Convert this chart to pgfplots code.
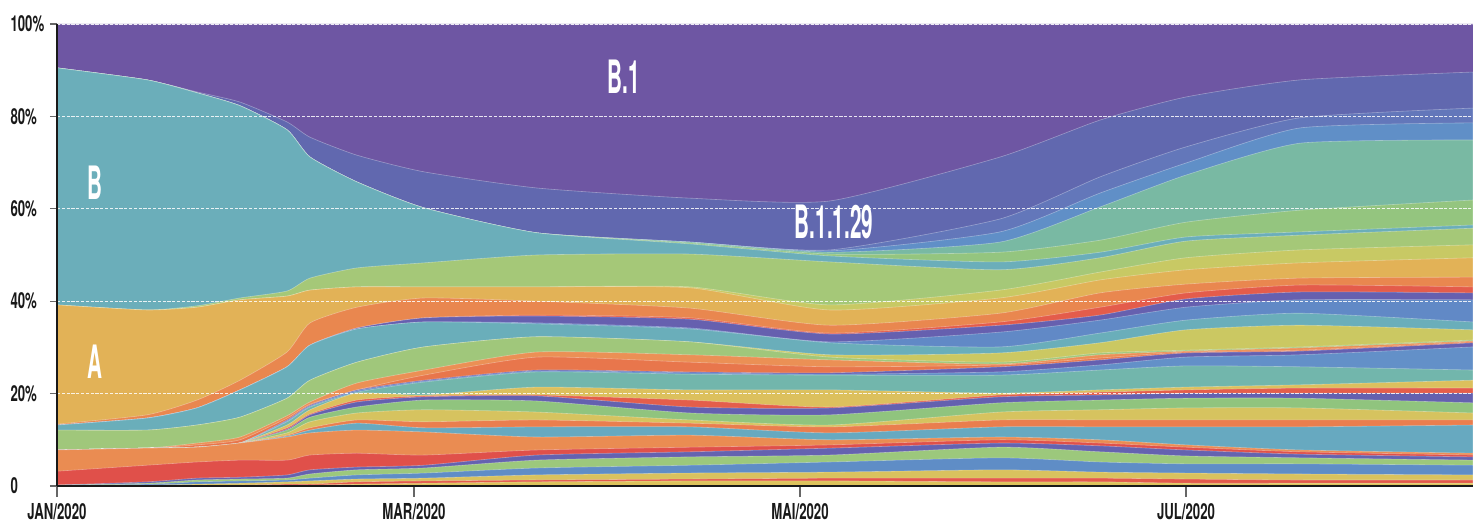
\documentclass[border=0pt]{standalone}
\usepackage{pgfplots}
\pgfplotsset{compat=1.18}
\usepackage{pgfplotstable}
\usepackage{fontspec}
\newfontfamily\tickfont{TeX Gyre Heros}[FakeStretch=0.6]
\newfontfamily\labfont{TeX Gyre Heros}[FakeStretch=0.45]

\definecolor{c1}{HTML}{6E56A3}
\definecolor{c2}{HTML}{6168AF}
\definecolor{c3}{HTML}{6377BA}
\definecolor{c4}{HTML}{608FC7}
\definecolor{c5}{HTML}{79B9A3}
\definecolor{c6}{HTML}{94C57F}
\definecolor{c7}{HTML}{6BAEBA}
\definecolor{c8}{HTML}{A5C878}
\definecolor{c9}{HTML}{C8C964}
\definecolor{c10}{HTML}{E2B257}
\definecolor{c11}{HTML}{E9874F}
\definecolor{c12}{HTML}{E45C4B}
\definecolor{c13}{HTML}{6660AF}
\definecolor{c14}{HTML}{6189C6}
\definecolor{c15}{HTML}{6AAEBA}
\definecolor{c16}{HTML}{CBC862}
\definecolor{c17}{HTML}{A0C77B}
\definecolor{c18}{HTML}{EB9055}
\definecolor{c19}{HTML}{E8764C}
\definecolor{c20}{HTML}{6660B0}
\definecolor{c21}{HTML}{6390C8}
\definecolor{c22}{HTML}{72B6AC}
\definecolor{c23}{HTML}{DCC05D}
\definecolor{c24}{HTML}{E45E4B}
\definecolor{c25}{HTML}{6461AF}
\definecolor{c26}{HTML}{90C47E}
\definecolor{c27}{HTML}{D6C35F}
\definecolor{c28}{HTML}{EA7E4E}
\definecolor{c29}{HTML}{67A9C0}
\definecolor{c30}{HTML}{EA8C52}
\definecolor{c31}{HTML}{E0504A}
\definecolor{c32}{HTML}{6562B0}
\definecolor{c33}{HTML}{9CC87C}
\definecolor{c34}{HTML}{5F8DC6}
\definecolor{c35}{HTML}{D9C25E}
\definecolor{c36}{HTML}{E35A4B}
\definecolor{c37}{HTML}{DDC35C}

% tops of the stacked layers (cumulative share, %), layer k spans t(k+1)..t(k)
\pgfplotstableread{
x t1 t2 t3 t4 t5 t6 t7 t8 t9 t10 t11 t12 t13 t14 t15 t16 t17 t18 t19 t20 t21 t22 t23 t24 t25 t26 t27 t28 t29 t30 t31 t32 t33 t34 t35 t36 t37
0 100 90.5 90.5 90.5 90.5 90.5 90.5 39.2 39.2 39.2 13.4 13.2 13.2 13.2 13.2 12.1 12.1 7.8 7.8 7.8 7.8 7.8 7.8 7.8 7.8 7.8 7.8 7.8 7.8 7.8 3.2 0.2 0.2 0.2 0 0 0
90 100 87.9 87.9 87.9 87.9 87.9 87.9 38.1 38.1 38.1 15.4 14.7 14.7 14.7 14.7 12.1 12.1 8.2 8.2 8.2 8.2 8.2 8.2 8.2 8.2 8.2 8.2 8.2 8.2 8.2 4.5 0.9 0.6 0.4 0.2 0 0
140 100 85.3 85.1 85.1 85.1 85.1 85.1 39.0 38.7 38.7 18.6 16.9 16.9 16.9 16.9 13.2 13.2 9.3 8.9 8.4 8.4 8.4 8.4 8.4 8.4 8.4 8.4 8.4 8.4 8.4 5.2 1.7 1.3 0.9 0.4 0.2 0
183 100 83.1 82.3 82.3 82.3 82.3 82.3 40.7 40.3 40.3 22.9 20.8 20.8 20.8 20.8 14.9 14.9 10.6 10.0 9.3 9.3 9.3 9.3 9.3 9.3 9.3 9.3 9.3 9.3 9.3 5.6 1.9 1.5 1.1 0.6 0.2 0
230 100 78.8 77.1 77.1 77.1 77.1 77.1 42.2 41.1 41.1 29.0 25.8 25.8 25.8 25.8 19.0 19.0 15.2 14.7 14.3 14.1 13.9 13.2 12.6 12.3 12.1 11.5 11.0 10.8 10.6 5.6 2.4 1.7 1.3 0.9 0.4 0.2
253 100 75.5 71.2 71.2 71.2 71.2 71.2 45.0 42.4 42.4 35.3 30.5 30.5 30.5 30.5 22.9 22.9 18.2 17.7 17.5 17.3 17.1 16.5 15.6 15.4 14.9 13.9 12.6 12.1 11.5 6.7 3.5 2.6 1.7 1.1 0.4 0.2
300 100 71.6 65.8 65.8 65.8 65.8 65.8 47.2 43.1 43.1 38.7 34.2 34.2 34.0 34.0 26.8 26.8 22.3 20.8 20.8 20.6 20.3 20.1 18.6 18.2 17.1 15.8 14.3 13.6 12.1 7.1 4.1 3.5 2.4 1.5 0.9 0.4
367 100 68.0 60.2 60.2 60.2 60.2 60.2 48.3 43.1 43.1 40.7 36.4 36.4 35.5 35.5 30.1 30.1 25.1 24.0 22.9 22.7 22.5 19.7 19.5 19.3 18.6 16.5 13.9 12.6 11.7 6.7 4.5 3.9 2.8 1.7 1.1 0.6
480 100 64.5 54.8 54.8 54.8 54.8 54.8 50.0 43.1 43.1 40.0 37.0 36.8 35.3 35.1 32.3 32.3 29.0 27.9 25.1 24.9 24.7 21.4 19.7 19.5 18.4 16.0 14.3 12.8 10.6 7.8 6.7 5.6 3.9 2.4 1.3 0.9
633 100 62.3 52.8 52.8 52.8 52.6 52.4 50.2 43.1 42.9 38.5 36.4 36.1 34.2 34.0 31.2 31.2 28.4 26.8 24.7 24.5 24.2 20.8 18.6 17.1 15.8 14.3 13.6 12.8 11.0 8.4 7.4 6.3 4.5 2.8 1.5 1.1
773 100 61.7 51.1 50.9 50.6 50.2 49.8 48.5 39.2 38.1 34.8 33.1 32.9 31.2 31.0 28.4 27.9 27.3 25.8 24.5 24.2 24.0 20.8 17.1 16.9 15.4 13.2 12.8 11.5 10.0 8.9 8.2 6.7 5.2 3.0 1.7 1.1
943 100 71.2 57.8 55.0 52.8 50.6 48.5 46.8 42.4 40.7 37.4 35.5 34.8 33.3 30.1 28.8 26.8 26.4 26.2 25.8 24.7 24.0 20.1 19.7 19.3 18.0 16.0 14.3 12.8 10.6 10.0 9.3 8.4 6.1 3.5 1.7 0.9
1043 100 79.2 66.9 63.4 60.4 53.2 50.6 49.4 46.3 44.6 41.8 38.7 37.0 35.9 33.1 31.0 28.8 28.4 27.7 27.3 26.2 25.1 20.8 20.3 19.7 18.6 16.5 14.3 12.8 10.0 9.3 8.7 7.4 5.2 3.0 1.7 0.9
1129 100 84.2 73.4 69.9 67.3 57.1 53.9 53.0 49.4 46.8 43.7 41.8 40.5 38.7 35.9 33.8 29.4 29.2 29.0 28.8 27.9 26.0 21.4 20.8 20.1 19.0 16.9 14.3 12.8 8.9 8.4 7.8 6.5 4.8 2.8 1.5 0.6
1243 100 87.9 79.7 77.5 74.2 59.7 55.0 54.3 51.1 48.3 45.0 43.5 42.0 40.3 37.4 34.8 30.1 29.9 29.4 29.2 28.4 25.8 21.9 21.2 20.1 19.0 16.9 14.3 12.8 7.8 7.4 6.9 6.1 4.8 2.6 1.3 0.6
1416 100 89.6 81.8 78.6 74.9 61.9 56.5 55.8 52.2 49.4 45.2 43.1 41.8 40.3 35.5 33.8 31.6 31.4 31.2 31.0 30.1 25.1 22.9 21.2 20.1 18.0 15.8 14.3 13.2 7.1 6.7 6.3 5.6 4.5 2.4 1.3 0.6
}\lineages

\begin{document}
\begin{tikzpicture}
\begin{axis}[
  at={(0,0)}, anchor=south west,
  scale only axis, width=708pt, height=231pt,
  xmin=0, xmax=1416, ymin=0, ymax=100,
  axis on top,
  axis x line*=bottom, axis y line*=left,
  axis line style={black!90, line width=1.4pt},
  xtick={0,357,743,1129},
  xticklabels={JAN/2020,MAR/2020,MAI/2020,JUL/2020},
  ytick={0,20,40,60,80,100},
  yticklabels={0,20\%,40\%,60\%,80\%,100\%},
  tick align=outside,
  xtick style={/pgfplots/major tick length=5.5pt, black!60, line width=0.6pt},
  ytick style={/pgfplots/major tick length=3.5pt, black!60, line width=0.6pt},
  ticklabel style={font=\tickfont\bfseries\fontsize{11}{11}\selectfont, text=black!90},
  yticklabel style={anchor=west, xshift=-22.5pt},
  xticklabel style={yshift=-0.8pt},
  ymajorgrids, grid style={white, draw opacity=0.85, dash pattern=on 1.6pt off 0.8pt, line width=0.35pt},
  every axis plot/.append style={draw=white, draw opacity=0.35, line width=0.3pt, smooth, tension=0.35},
]
\pgfplotsinvokeforeach{1,...,37}{
  \addplot[fill=c#1] table[x=x, y=t#1] {\lineages} \closedcycle;
}
\node[font=\labfont\bfseries\fontsize{23}{23}\selectfont, text=white] at (axis cs:567,88.5) {B.1};
\node[font=\labfont\bfseries\fontsize{23}{23}\selectfont, text=white] at (axis cs:38,65.6) {B};
\node[font=\labfont\bfseries\fontsize{23}{23}\selectfont, text=white] at (axis cs:38,26.8) {A};
\node[font=\labfont\bfseries\fontsize{23}{23}\selectfont, text=white] at (axis cs:777,57.1) {B.1.1.29};
\end{axis}
\pgfresetboundingbox
\useasboundingbox (-28.5pt,-19pt) rectangle (708pt,243pt);
\end{tikzpicture}
\end{document}
